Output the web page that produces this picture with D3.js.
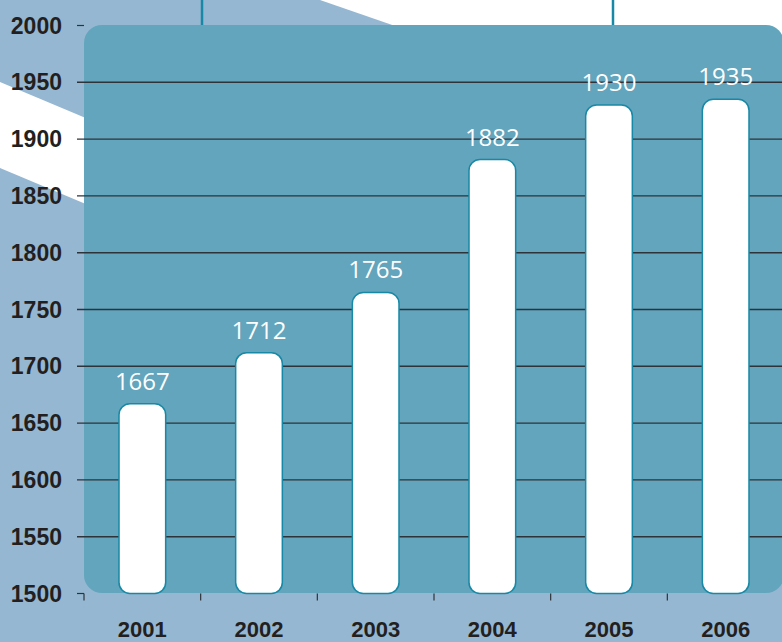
<!DOCTYPE html>
<html lang="en">
<head>
    <meta charset="UTF-8">
    <title>Bar chart 2001-2006</title>
    <script src="https://d3js.org/d3.v7.min.js"></script>
    <style>
        body { margin: 0; background: #95b7d2; }
        svg { display: block; }
        .ylab { font-family: "Liberation Sans", Arial, sans-serif; font-weight: bold; font-size: 23px; fill: #231f20; }
        .xlab { font-family: "Liberation Sans", Arial, sans-serif; font-weight: bold; font-size: 22px; fill: #231f20; }
        .val { font-family: "Open Sans", sans-serif; font-size: 24px; fill: #fff; }
    </style>
</head>
<body>
    <svg width="782" height="642"></svg>
    <script>
        // data
        const years = ["2001", "2002", "2003", "2004", "2005", "2006"];
        const values = [1667, 1712, 1765, 1882, 1930, 1935];
        const yTicks = [1500, 1550, 1600, 1650, 1700, 1750, 1800, 1850, 1900, 1950, 2000];

        const svg = d3.select("svg"),
            width = +svg.attr("width"),
            height = +svg.attr("height");

        const x = d3.scaleBand().domain(years).range([84, 784]).paddingInner(0.6).paddingOuter(0.3);
        const xEdge = d3.scaleBand().domain(years).range([84, 784]);
        const y = d3.scaleLinear().domain([1500, 2000]).range([593.5, 25.5]);

        // background + white diagonal stripes
        svg.append("rect").attr("width", width).attr("height", height).attr("fill", "#95b7d2");
        svg.append("polygon")
            .attr("points", "0,82 200,166 200,252 0,168")
            .attr("fill", "#fff");
        svg.append("polygon")
            .attr("points", "320,0 782,0 782,160")
            .attr("fill", "#fff");

        // little teal lines above the panel
        [202, 613].forEach(px => {
            svg.append("line")
                .attr("x1", px).attr("x2", px).attr("y1", 0).attr("y2", 26)
                .attr("stroke", "#1788a5").attr("stroke-width", 2.5);
        });

        // panel
        svg.append("rect")
            .attr("x", 84).attr("y", y(2000) - 0.5)
            .attr("width", 700).attr("height", y(1500) - y(2000))
            .attr("rx", 18).attr("fill", "#62a5bd");

        // gridlines
        svg.append("g")
            .selectAll("line")
            .data(yTicks.filter(d => d > 1500 && d < 2000))
            .join("line")
            .attr("x1", 77).attr("x2", 782)
            .attr("y1", d => y(d)).attr("y2", d => y(d))
            .attr("stroke", "#2d3338").attr("stroke-width", 1.4);

        // small y ticks at the ends
        [2000, 1500].forEach(v => {
            svg.append("line")
                .attr("x1", 77).attr("x2", 84)
                .attr("y1", y(v)).attr("y2", y(v))
                .attr("stroke", "#2d3338").attr("stroke-width", 1.2);
        });

        // x ticks between the bars
        svg.append("g")
            .selectAll("line")
            .data(years)
            .join("line")
            .attr("x1", d => xEdge(d)).attr("x2", d => xEdge(d))
            .attr("y1", y(1500)).attr("y2", y(1500) + 7)
            .attr("stroke", "#2d3338").attr("stroke-width", 1.2);

        // bars: rounded top and bottom
        const r = 11;
        svg.append("g")
            .selectAll("rect")
            .data(values)
            .join("rect")
            .attr("x", (d, i) => x(years[i]))
            .attr("y", d => y(d))
            .attr("width", x.bandwidth())
            .attr("height", d => y(1500) - y(d))
            .attr("rx", r)
            .attr("fill", "#fff")
            .attr("stroke", "#1788a5")
            .attr("stroke-width", 1.5);

        // value labels
        svg.append("g")
            .selectAll("text")
            .data(values)
            .join("text")
            .attr("class", "val")
            .attr("x", (d, i) => x(years[i]) + x.bandwidth() / 2)
            .attr("y", d => y(d) - 14)
            .attr("text-anchor", "middle")
            .text(d => d);

        // y labels
        svg.append("g")
            .selectAll("text")
            .data(yTicks)
            .join("text")
            .attr("class", "ylab")
            .attr("x", 62)
            .attr("y", d => y(d) + 8)
            .attr("text-anchor", "end")
            .text(d => d);

        // x labels
        svg.append("g")
            .selectAll("text")
            .data(years)
            .join("text")
            .attr("class", "xlab")
            .attr("x", d => x(d) + x.bandwidth() / 2)
            .attr("y", 637)
            .attr("text-anchor", "middle")
            .text(d => d);
    </script>
</body>
</html>
